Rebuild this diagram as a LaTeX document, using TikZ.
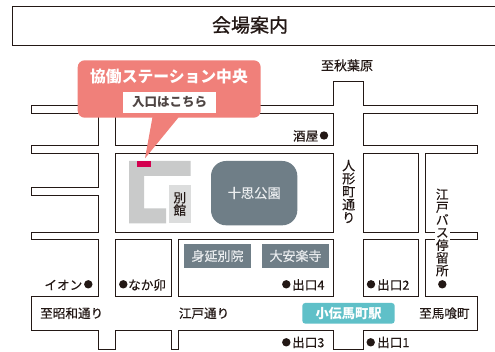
\documentclass[tikz,border=0pt]{standalone}
\usepackage{fontspec}
\setmainfont{Noto Sans CJK JP}[FakeBold=0.35]
\newfontfamily\jpb{Noto Sans CJK JP}
\newfontfamily\jpt{Noto Sans CJK JP}[FakeBold=1.0]
\definecolor{ink}{HTML}{231815}
\definecolor{salmon}{HTML}{F0807A}
\definecolor{slate}{HTML}{6F7E87}
\definecolor{teal}{HTML}{5FC0C8}
\definecolor{crimson}{HTML}{D3004F}
\definecolor{bldg}{HTML}{C9CACA}
\definecolor{annex}{HTML}{DCDDDD}
\definecolor{soft}{HTML}{E9ECEE}
\newcommand{\fs}[1]{\fontsize{#1}{#1}\selectfont}
\tikzset{
  x=1pt,y=-1pt,
  road/.style={draw=ink,line width=0.95pt,line join=miter},
  lbl/.style={inner sep=0pt,text=ink,font=\fs{12.6},text height=11pt,text depth=1.6pt},
  vlbl/.style={inner sep=0pt,text=ink,align=center},
  pin/.style={circle,fill=ink,inner sep=0pt,minimum size=8.4pt},
  plate/.style={fill=slate,inner sep=0pt,text=soft,font=\fs{13},text height=11.4pt,text depth=1.6pt},
}
\begin{document}
\begin{tikzpicture}
\useasboundingbox (0,0) rectangle (495,352);
\fill[white] (0,0) rectangle (495,352);
% title
\draw[road] (495,6.3) -- (12.3,6.3) -- (12.3,45.3) -- (495,45.3);
\node[inner sep=0pt,text=ink,font=\jpt\fs{19}] (title) at (250,25) {会場案内};
% road outline
\draw[road] (425.3,239.3) -- (425.3,296.3) -- (477.7,296.3) -- (477.7,330.3) -- (363.3,330.3) -- (363.3,349.3) -- (333.3,349.3) -- (333.3,330.3) -- (178.3,330.3) -- (178.3,349.3) -- (171,349.3) -- (171,330.3) -- (115.7,330.3) -- (115.7,349.3) -- (98.7,349.3) -- (98.7,330.3) -- (31.5,330.3) -- (31.5,296.3) -- (98.7,296.3) -- (98.7,239.3) -- (31.5,239.3) -- (31.5,232) -- (98.7,232) -- (98.7,195.7) -- (31.5,195.7) -- (31.5,187.7) -- (98.7,187.7) -- (98.7,153.3) -- (31.5,153.3) -- (31.5,145.7) -- (98.7,145.7) -- (98.7,113) -- (31.5,113) -- (31.5,105.7) -- (333.3,105.7) -- (333.3,81.7) -- (363.3,81.7) -- (363.3,105.7) -- (477.7,105.7) -- (477.7,113) -- (363.3,113) -- (363.3,145.7) -- (477.7,145.7) -- (477.7,153.3) -- (425.3,153.3) -- (425.3,232) -- (477.7,232) -- (477.7,239.3) -- cycle;
% blocks
\draw[road] (115.7,113) rectangle (333.3,145.7);
\draw[road] (115.7,153.3) rectangle (333.3,232);
\draw[road] (115.7,239.3) rectangle (171,296.3);
\draw[road] (178.3,239.3) rectangle (333.3,296.3);
\draw[road] (363.3,153.3) rectangle (418,232);
\draw[road] (363.3,239.3) rectangle (418,296.3);
% buildings
\fill[bldg] (129,161) -- (190.7,161) -- (190.7,176) -- (144,176) -- (144,208.3) -- (166,208.3) -- (166,223.3) -- (129,223.3) -- cycle;
\fill[annex] (169,185) rectangle (190.7,223.3);
\node[vlbl,font=\fs{12.6}] (annexlbl) at (179.8,204) {別\\館};
\fill[crimson] (137,161) rectangle (151,167);
\fill[slate,rounded corners=15pt] (211,161) rectangle (297.3,225.3);
\node[inner sep=0pt,text=soft,font=\fs{13.3}] (park) at (254.2,193) {十思公園};
\node[plate,minimum width=67pt,minimum height=24pt] (minobu) at (217.5,256) {身延別院};
\node[plate,minimum width=67pt,minimum height=24pt] (daian) at (295.5,256) {大安楽寺};
\node[fill=teal,rounded corners=3pt,inner sep=0pt,minimum width=92.4pt,minimum height=20.7pt,text=white,font=\jpb\fs{13.2}\bfseries] (station) at (348.5,313.3) {小伝馬町駅};
% callout
\fill[salmon,rounded corners=7pt] (77.7,60.3) rectangle (260.7,117.7);
\fill[salmon] (152.7,116) -- (178.3,116) -- (178.3,117.7) -- (145,158.3) -- cycle;
\node[inner sep=0pt,text=white,font=\jpb\fs{15.8}\bfseries] (venue) at (169,76.5) {協働ステーション中央};
\node[fill=white,inner sep=0pt,minimum width=93pt,minimum height=20.7pt,text=ink!80,font=\jpb\fs{12.5}\bfseries] (entry) at (169.5,102.3) {入口はこちら};
% labels
\node[lbl,font=\fs{13}] (akiba) at (347,65.7) {至秋葉原};
\node[lbl,anchor=east] (sakaya) at (318.5,136) {酒屋};
\node[pin] (p1) at (324,135.5) {};
\node[vlbl,font=\fs{13}] (ningyo) at (348.7,191.5) {人\\形\\町\\通\\り};
\node[vlbl,fill=white,font=\fs{12.7},inner xsep=1pt] (edobus) at (442.3,232.5) {江\\戸\\バ\\ス\\停\\留\\所};
\node[pin] (p2) at (442.3,284.3) {};
\node[lbl,anchor=east] (aeon) at (82.5,285) {イオン};
\node[pin] (p3) at (88.3,284.3) {};
\node[pin] (p4) at (123.3,284.3) {};
\node[lbl,anchor=west] (nakau) at (128,285) {なか卯};
\node[lbl,anchor=west] (to1) at (40,313.3) {至昭和通り};
\node[lbl,anchor=west] (to2) at (178.7,313.3) {江戸通り};
\node[lbl,anchor=west] (to3) at (419,313.3) {至馬喰町};
\node[pin] (p5) at (286.3,284.3) {};
\node[lbl,anchor=west] (ex4) at (292,285) {出口4};
\node[pin] (p6) at (371,284.3) {};
\node[lbl,anchor=west] (ex2) at (377,285) {出口2};
\node[pin] (p7) at (286.3,342.3) {};
\node[lbl,anchor=west] (ex3) at (292,342.5) {出口3};
\node[pin] (p8) at (370.7,342.3) {};
\node[lbl,anchor=west] (ex1) at (377,342.5) {出口1};
\end{tikzpicture}
\end{document}
